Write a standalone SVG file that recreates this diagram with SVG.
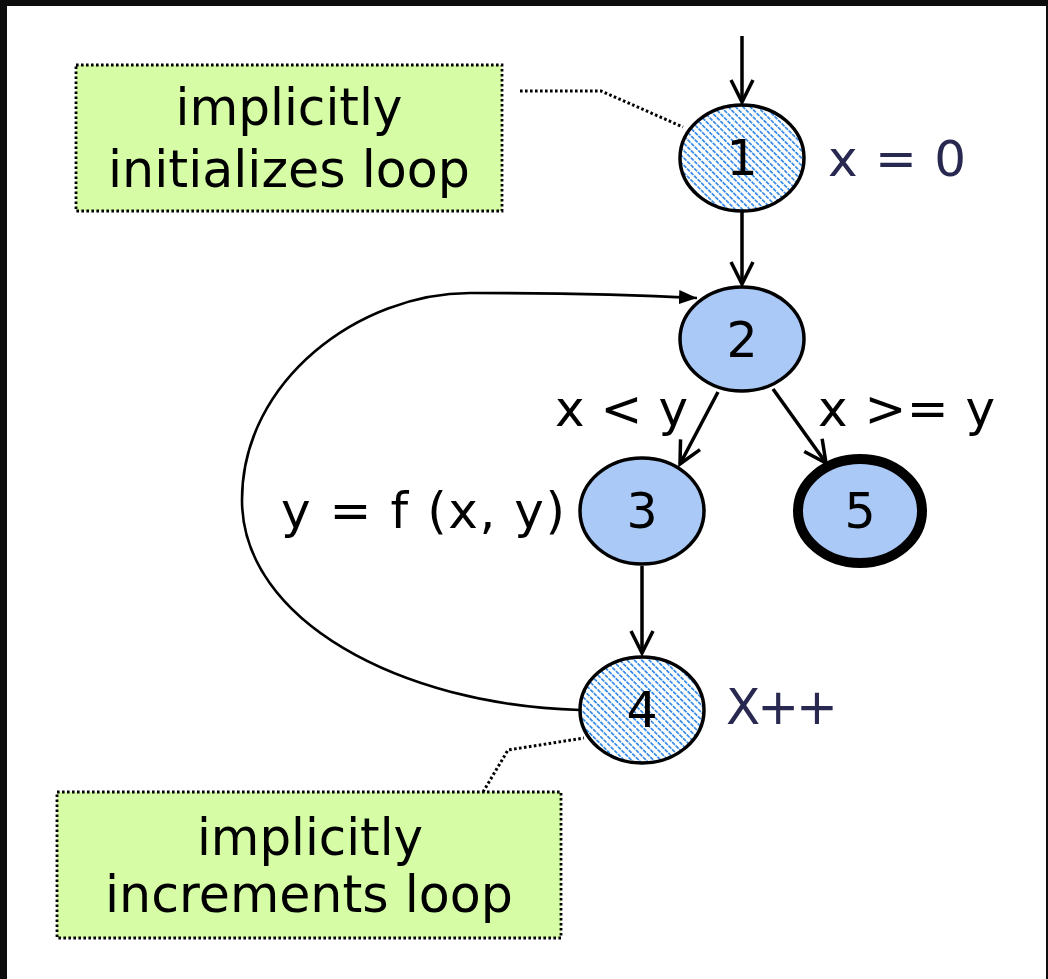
<svg xmlns="http://www.w3.org/2000/svg" width="1048" height="979" viewBox="0 0 1048 979">
<style>
.node{fill:#abc9f6;stroke:#000;stroke-width:3.5}
.hatch{fill:url(#hatch);stroke:#000;stroke-width:3.5}
.num{font-family:"DejaVu Sans",Verdana,sans-serif;font-size:49px;fill:#000;text-anchor:middle}
.lbl{font-family:"DejaVu Sans",Verdana,sans-serif;font-size:50px;fill:#000}
.navy{fill:#282850}
.edge{stroke:#000;stroke-width:3.5;fill:none}
.dot{stroke:#000;stroke-width:3;fill:none;stroke-dasharray:2.6 2.4}
.box{fill:#d6fca6;stroke:#000;stroke-width:2.8;stroke-dasharray:2.6 2.4}
.note{font-family:"DejaVu Sans",Verdana,sans-serif;font-size:51px;fill:#000;text-anchor:middle}
</style>
<defs>
<pattern id="hatch" patternUnits="userSpaceOnUse" width="10" height="5.2" patternTransform="rotate(45)">
<rect width="10" height="5.2" fill="#fff"/>
<line x1="0" y1="2.6" x2="10" y2="2.6" stroke="#3a8de8" stroke-width="1.7" stroke-dasharray="4 1"/>
</pattern>
<marker id="chev" viewBox="0 0 28 26" refX="24" refY="13" markerWidth="28" markerHeight="26" markerUnits="userSpaceOnUse" orient="auto">
<path d="M2,2 L24,13 L2,24" fill="none" stroke="#000" stroke-width="3.5"/>
</marker>
<marker id="tri" viewBox="0 0 18 14" refX="18" refY="7" markerWidth="18" markerHeight="14" markerUnits="userSpaceOnUse" orient="auto">
<path d="M0,0 L18,7 L0,14 Z" fill="#000"/>
</marker>
</defs>
<rect x="0" y="0" width="1048" height="979" fill="#0d0d0d"/>
<rect x="7" y="6" width="1039" height="973" fill="#fff"/>
<g id="connectors">
<line class="edge" x1="742" y1="36" x2="742" y2="102" marker-end="url(#chev)"/>
<line class="edge" x1="742" y1="212" x2="742" y2="284" marker-end="url(#chev)"/>
<line class="edge" x1="718" y1="392" x2="680" y2="464" marker-end="url(#chev)"/>
<line class="edge" x1="773" y1="389" x2="826" y2="463" marker-end="url(#chev)"/>
<line class="edge" x1="642" y1="566" x2="642" y2="653" marker-end="url(#chev)"/>
<path d="M580,710 C400,705 242,620 242,500 C242,380 360,293 470,293 C560,293 640,295 697,298" fill="none" stroke="#000" stroke-width="2.6" marker-end="url(#tri)"/>
<polyline class="dot" points="520,91 601,91 683,127"/>
<polyline class="dot" points="483,792 508,750 584,738"/>
</g>
<g id="note1">
<rect class="box" x="76" y="65" width="426" height="146"/>
<text class="note" x="289" y="125" textLength="227" lengthAdjust="spacingAndGlyphs">implicitly</text>
<text class="note" x="289" y="187" textLength="362" lengthAdjust="spacingAndGlyphs">initializes loop</text>
</g>
<g id="note2">
<rect class="box" x="57" y="792" width="504" height="146"/>
<text class="note" x="310" y="855" textLength="226" lengthAdjust="spacingAndGlyphs">implicitly</text>
<text class="note" x="309" y="912" textLength="408" lengthAdjust="spacingAndGlyphs">increments loop</text>
</g>
<g id="n1">
<ellipse class="hatch" cx="742" cy="158" rx="62" ry="53"/>
<text class="num" x="742" y="175">1</text>
<text class="lbl navy" x="828" y="176" textLength="138" lengthAdjust="spacing">x = 0</text>
</g>
<g id="n2">
<ellipse class="node" cx="742" cy="339" rx="62" ry="52"/>
<text class="num" x="742" y="357">2</text>
</g>
<g id="n3">
<ellipse class="node" cx="642" cy="511" rx="62" ry="53"/>
<text class="num" x="642" y="528">3</text>
<text class="lbl" x="281" y="528" textLength="284" lengthAdjust="spacing">y = f (x, y)</text>
</g>
<g id="n5">
<ellipse cx="860" cy="511" rx="62" ry="52" fill="#abc9f6" stroke="#000" stroke-width="10"/>
<text class="num" x="860" y="528">5</text>
</g>
<g id="n4">
<ellipse class="hatch" cx="642" cy="710" rx="62" ry="53"/>
<text class="num" x="642" y="727">4</text>
<text class="lbl navy" x="726" y="724" textLength="112" lengthAdjust="spacing">X++</text>
</g>
<g id="edge-labels">
<text class="lbl" x="555" y="426" textLength="133" lengthAdjust="spacing">x &lt; y</text>
<text class="lbl" x="818" y="426" textLength="177" lengthAdjust="spacing">x &gt;= y</text>
</g>
</svg>
